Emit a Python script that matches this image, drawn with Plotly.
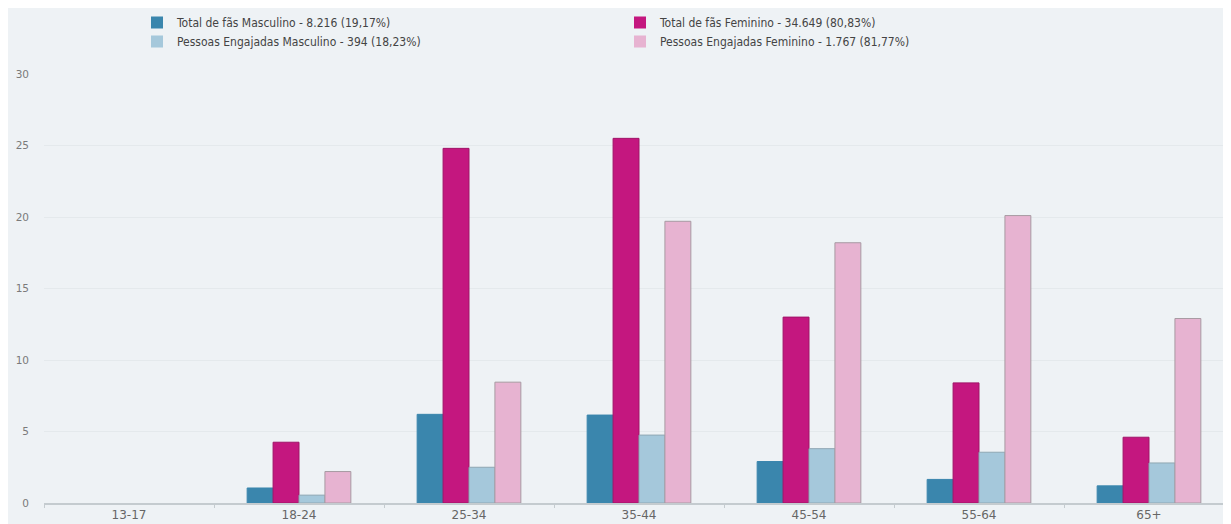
import plotly.graph_objects as go

categories = ["13-17", "18-24", "25-34", "35-44", "45-54", "55-64", "65+"]
total_masc = [0, 1.05, 6.2, 6.15, 2.9, 1.65, 1.2]
total_fem = [0, 4.25, 24.8, 25.5, 13.0, 8.4, 4.6]
eng_masc = [0, 0.55, 2.5, 4.75, 3.8, 3.55, 2.8]
eng_fem = [0, 2.2, 8.45, 19.7, 18.2, 20.1, 12.9]

names = [
    "Total de fãs Masculino - 8.216 (19,17%)",
    "Total de fãs Feminino - 34.649 (80,83%)",
    "Pessoas Engajadas Masculino - 394 (18,23%)",
    "Pessoas Engajadas Feminino - 1.767 (81,77%)",
]
colors = ["#3a86ad", "#c4177f", "#a5c8db", "#e7b3d1"]
lines = ["#3a86ad", "#a01468", "#8fa7b3", "#a79aa2"]
series = [total_masc, total_fem, eng_masc, eng_fem]

fig = go.Figure()
for n, c, lc, s in zip(names, colors, lines, series):
    widths = [1 if v > 0 else 0 for v in s]
    fig.add_trace(go.Bar(x=categories, y=s, name=n,
                         marker=dict(color=c, line=dict(color=lc, width=widths))))

W, H = 1226, 516
fig.update_layout(
    width=W, height=H,
    margin=dict(l=36, r=0, t=66, b=21, autoexpand=False),
    paper_bgcolor="#eef2f5", plot_bgcolor="#eef2f5",
    barmode="group", bargap=0.39, bargroupgap=0,
    font=dict(family="DejaVu Sans Condensed, DejaVu Sans", color="#555"),
    legend=dict(orientation="h", xref="container", yref="container",
                x=129 / W, xanchor="left", y=1.0, yanchor="top",
                entrywidth=438, entrywidthmode="pixels",
                font=dict(size=12, color="#444"), itemwidth=30,
                bgcolor="rgba(0,0,0,0)"),
    showlegend=True,
)
fig.update_yaxes(range=[0, 30], dtick=5, showgrid=True, gridcolor="#e4e9ec", gridwidth=1,
                 zeroline=False, tickfont=dict(family="DejaVu Sans", size=10.5, color="#7a7a7a"),
                 ticklabelstandoff=14, showline=False, automargin=False)
fig.update_xaxes(showline=True, linecolor="#c4cbcf", linewidth=1.5, ticks="outside",
                 ticklen=3, tickcolor="#c4cbcf", tickson="boundaries",
                 tickfont=dict(family="DejaVu Sans", size=12, color="#666"),
                 showgrid=False, automargin=False)

fig.write_html("out.html")
